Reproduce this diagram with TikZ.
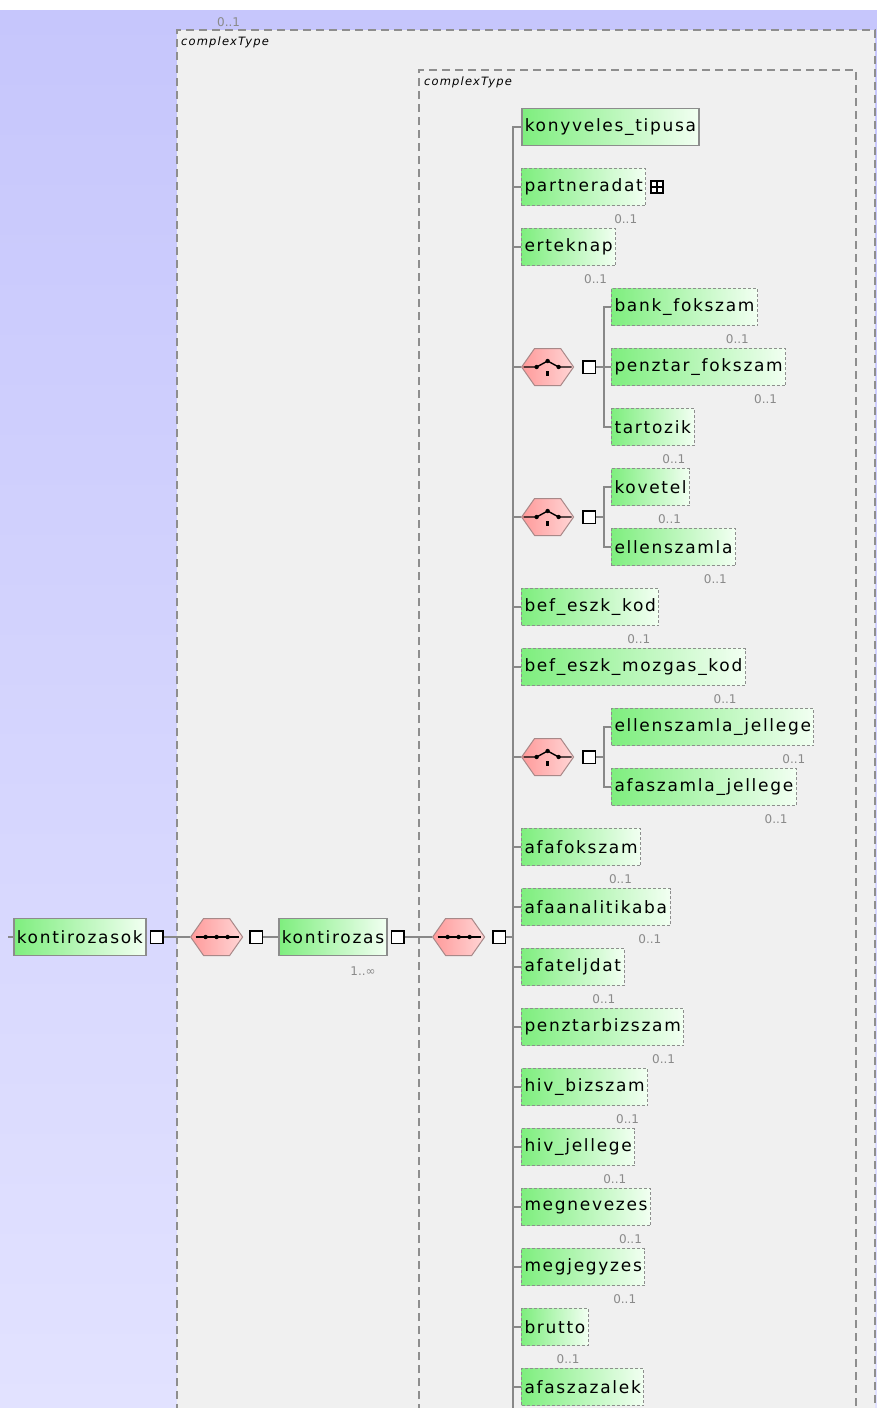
\documentclass[tikz,border=0pt]{standalone}
\usepackage{fontspec}
\usepackage{tikz}
\usetikzlibrary{positioning, shapes.symbols}

\newfontfamily\elemfont[LetterSpace=10]{DejaVu Sans}
\newfontfamily\cardfont{DejaVu Sans}
\newfontfamily\ctfont[LetterSpace=10]{DejaVu Sans}

\definecolor{lavtop}{HTML}{C6C6FC}
\definecolor{lavbot}{HTML}{E2E2FF}
\definecolor{ctfill}{HTML}{F0F0F0}
\definecolor{dashgray}{HTML}{8E8E8E}
\definecolor{linegray}{HTML}{888888}
\definecolor{cardgray}{HTML}{8A8A8A}
\definecolor{reqgray}{HTML}{8C8C8C}
\definecolor{greenL}{HTML}{7EEE7E}
\definecolor{greenR}{HTML}{F2FFF2}
\definecolor{hexL}{HTML}{FF9A9A}
\definecolor{hexR}{HTML}{FFD6D6}
\definecolor{hexB}{HTML}{A88888}

\tikzset{
    conn/.style={draw=linegray, line width=1.2pt},
    ctbox/.style={draw=dashgray, line width=1.5pt, dash pattern=on 8pt off 5pt},
    ctlabel/.style={font=\ctfont\itshape\fontsize{11.5}{12}\selectfont, anchor=north west, inner sep=0pt},
    elem/.style={draw=dashgray, line width=1pt, dash pattern=on 3pt off 2pt,
        left color=greenL, right color=greenR, text=black, anchor=west,
        minimum height=37pt, inner xsep=3pt, inner ysep=0pt,
        font=\elemfont\fontsize{17}{19}\selectfont},
    elemreq/.style={elem, solid, draw=reqgray, line width=1.6pt},
    card/.style={font=\cardfont\fontsize{12}{13}\selectfont, text=cardgray, anchor=east, inner sep=0pt},
    sqr/.style={draw=black, fill=white, line width=1.5pt, minimum size=12.5pt, inner sep=0pt},
    expicon/.style={draw=black, fill=white, line width=1.6pt, minimum size=12pt, inner sep=0pt,
        path picture={
            \draw[black, line width=2pt] (path picture bounding box.north) -- (path picture bounding box.south)
                (path picture bounding box.west) -- (path picture bounding box.east);
        }},
    hexbox/.style={signal, signal to=east and west, signal pointer angle=110,
        minimum width=52pt, minimum height=37pt, inner sep=0pt, anchor=west,
        left color=hexL, right color=hexR, draw=hexB, line width=1pt},
    seqhex/.style={hexbox, path picture={
        \draw[black, line width=1.4pt] ([xshift=-21pt]path picture bounding box.center) -- ([xshift=22pt]path picture bounding box.center);
        \foreach \dx in {-11,0,11}
            \fill[black] ([xshift=\dx pt]path picture bounding box.center) circle (2.2pt);
    }},
    chohex/.style={hexbox, path picture={
        \draw[black, line width=1.4pt] ([xshift=-24pt]path picture bounding box.center)
            -- ([xshift=-11pt]path picture bounding box.center)
            -- ([yshift=6pt]path picture bounding box.center)
            -- ([xshift=11pt]path picture bounding box.center)
            -- ([xshift=24pt]path picture bounding box.center);
        \foreach \dx/\dy in {-11/0, 0/6, 11/0}
            \fill[black] ([xshift=\dx pt, yshift=\dy pt]path picture bounding box.center) circle (2.2pt);
        \fill[black] ([xshift=-1.3pt, yshift=-3.5pt]path picture bounding box.center)
            rectangle ([xshift=1.3pt, yshift=-8.5pt]path picture bounding box.center);
    }},
}

\begin{document}
\begin{tikzpicture}[x=1pt, y=-1pt]
    \useasboundingbox (0,0) rectangle (877,1408);
    % background and complexType frames
    \fill[white] (0,0) rectangle (877,1408);
    \shade[top color=lavtop, bottom color=lavbot] (0,10) rectangle (877,1408);
    \fill[ctfill] (177,30) rectangle (875,1412);
    \draw[ctbox] (177,1412) -- (177,30) -- (875,30) -- (875,1412);
    \draw[ctbox] (419,1412) -- (419,70) -- (856,70) -- (856,1412);
    \node[card, anchor=west] (ctcard) at (217,22) {0..1};
    \node[ctlabel] (cta) at (181,37) {complexType};
    \node[ctlabel] (ctb) at (424,77) {complexType};

    % main row
    \coordinate (root) at (8,937);
    \node[elemreq] (kontirozasok) at (13,937) {kontirozasok};
    \node[sqr, right=3pt of kontirozasok] (sqa) {};
    \node[seqhex] (seqa) at (190,937) {};
    \node[sqr, right=6pt of seqa] (sqb) {};
    \node[elemreq] (kontirozas) at (278,937) {kontirozas};
    \node[card] at ([xshift=-12pt,yshift=-15pt]kontirozas.south east) {1..∞};
    \node[sqr, right=3pt of kontirozas] (sqc) {};
    \node[seqhex] (seqb) at (432,937) {};
    \node[sqr, right=7pt of seqb] (sqd) {};

    % sequence children
    \coordinate (bus) at (513,0);
    \coordinate (busend) at (513,1412);
    \coordinate (subbus) at (604,0);
    \node[elemreq] (konyv) at (521,127) {konyveles\_tipusa};
    \foreach \nm/\txt/\yy in {partner/partneradat/187, ertek/erteknap/247,
            befkod/bef\_eszk\_kod/607, befmozg/bef\_eszk\_mozgas\_kod/667,
            afafok/afafokszam/847, afaanal/afaanalitikaba/907, afatelj/afateljdat/967,
            penzbiz/penztarbizszam/1027, hivbiz/hiv\_bizszam/1087, hivjell/hiv\_jellege/1147,
            megnev/megnevezes/1207, megjegy/megjegyzes/1267, brutto/brutto/1327}{
        \node[elem] (\nm) at (521,\yy) {\txt};
        \node[card] at ([xshift=-9pt,yshift=-13pt]\nm.south east) {0..1};
    }
    \node[elem] (afaszaz) at (521,1387) {afaszazalek};
    \node[expicon, right=4pt of partner] (partnerx) {};

    % choices
    \node[chohex] (choa) at (521,367) {};
    \node[sqr, right=8pt of choa] (sqe) {};
    \node[chohex] (chob) at (521,517) {};
    \node[sqr, right=8pt of chob] (sqf) {};
    \node[chohex] (choc) at (521,757) {};
    \node[sqr, right=8pt of choc] (sqg) {};
    \foreach \nm/\txt/\yy in {bankfok/bank\_fokszam/307, penzfok/penztar\_fokszam/367,
            tartozik/tartozik/427, kovetel/kovetel/487, ellensz/ellenszamla/547,
            ellenjell/ellenszamla\_jellege/727, afajell/afaszamla\_jellege/787}{
        \node[elem] (\nm) at (611,\yy) {\txt};
        \node[card] at ([xshift=-9pt,yshift=-13pt]\nm.south east) {0..1};
    }

    % connectors
    \draw[conn] (root) -- (kontirozasok.west);
    \draw[conn] (sqa.east) -- (seqa.west);
    \draw[conn] (sqb.east) -- (kontirozas.west);
    \draw[conn] (sqc.east) -- (seqb.west);
    \draw[conn] (sqd.east) -- (bus |- sqd.east);
    \draw[conn] (konyv.west) -- (bus |- konyv.west) -- (busend);
    \foreach \nm in {partner, ertek, choa, chob, befkod, befmozg, choc, afafok, afaanal,
            afatelj, penzbiz, hivbiz, hivjell, megnev, megjegy, brutto, afaszaz}
        \draw[conn] (bus |- \nm.west) -- (\nm.west);
    \draw[conn] (bankfok.west) -- (subbus |- bankfok.west) -- (subbus |- tartozik.west) -- (tartozik.west);
    \draw[conn] (sqe.east) -- (subbus |- sqe.east);
    \draw[conn] (subbus |- penzfok.west) -- (penzfok.west);
    \draw[conn] (kovetel.west) -- (subbus |- kovetel.west) -- (subbus |- ellensz.west) -- (ellensz.west);
    \draw[conn] (sqf.east) -- (subbus |- sqf.east);
    \draw[conn] (ellenjell.west) -- (subbus |- ellenjell.west) -- (subbus |- afajell.west) -- (afajell.west);
    \draw[conn] (sqg.east) -- (subbus |- sqg.east);
\end{tikzpicture}
\end{document}
